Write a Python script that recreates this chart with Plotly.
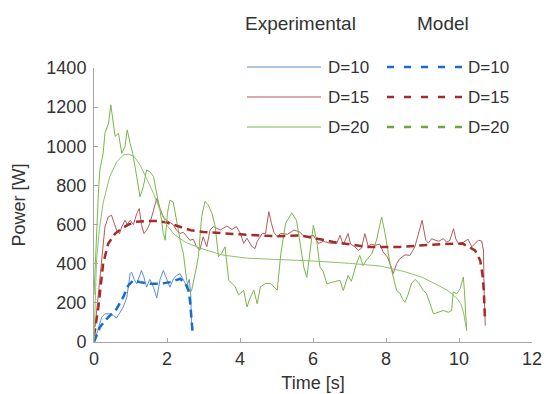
import plotly.graph_objects as go

# ---------------- data ----------------
series_names = ["D=10", "D=15", "D=20"]

t_exp10 = [0.03, 0.12, 0.21, 0.30, 0.43, 0.53, 0.62, 0.71, 0.80, 0.90, 0.99, 1.03, 1.10, 1.17,
           1.24, 1.30, 1.37, 1.44, 1.53, 1.63, 1.72, 1.81, 1.90, 1.99, 2.08, 2.17, 2.26, 2.36,
           2.45, 2.54, 2.61, 2.65, 2.67, 2.69]
p_exp10 = [15, 75, 127, 144, 144, 135, 123, 150, 178, 229, 349, 357, 320, 297,
           340, 366, 330, 280, 320, 280, 225, 320, 366, 320, 280, 320, 340, 349,
           320, 285, 320, 246, 109, 60]

t_mod10 = [0, 0.08, 0.16, 0.30, 0.43, 0.62, 0.80, 0.94, 1.08, 1.26, 1.53, 1.81, 2.08, 2.36,
           2.50, 2.59, 2.63, 2.67, 2.70]
p_mod10 = [0, 40, 75, 109, 135, 169, 229, 289, 315, 306, 297, 297, 306, 323,
           300, 263, 212, 94, 53]

t_exp15 = [0.03, 0.12, 0.21, 0.30, 0.39, 0.48, 0.54, 0.62, 0.70, 0.76, 0.85, 0.91, 0.99, 1.08,
           1.17, 1.24, 1.30, 1.37, 1.44, 1.53, 1.63, 1.72, 1.81, 1.90, 1.99, 2.08, 2.17, 2.26,
           2.36, 2.45, 2.54, 2.63, 2.72, 2.81, 2.90, 2.99, 3.09, 3.18, 3.27, 3.46, 3.64, 3.78,
           3.90, 4.01, 4.10, 4.19, 4.33, 4.41, 4.47, 4.61, 4.70, 4.79, 4.86, 4.93, 5.02, 5.12,
           5.30, 5.48, 5.64, 5.72, 5.83, 6.01, 6.15, 6.28, 6.45, 6.65, 6.74, 6.83, 6.96, 7.03,
           7.15, 7.24, 7.33, 7.42, 7.51, 7.61, 7.70, 7.83, 7.92, 8.04, 8.11, 8.20, 8.29, 8.38,
           8.52, 8.66, 8.79, 8.93, 8.99, 9.04, 9.09, 9.16, 9.25, 9.35, 9.45, 9.57, 9.66, 9.75,
           9.85, 9.91, 9.98, 10.12, 10.25, 10.35, 10.44, 10.53, 10.62, 10.67, 10.69, 10.72]
p_exp15 = [77, 246, 451, 588, 639, 648, 614, 571, 554, 588, 622, 600, 622, 600,
           656, 682, 600, 554, 571, 605, 673, 733, 682, 639, 622, 612, 600, 571,
           555, 560, 537, 520, 525, 486, 470, 538, 487, 572, 590, 572, 593, 575,
           590, 555, 504, 530, 487, 477, 513, 555, 555, 666, 607, 560, 538, 555,
           550, 572, 562, 545, 537, 545, 503, 515, 505, 503, 545, 496, 554, 500,
           486, 468, 480, 554, 490, 500, 494, 500, 460, 434, 400, 349, 400, 426,
           445, 443, 486, 588, 622, 570, 520, 505, 528, 520, 515, 528, 510, 520,
           579, 528, 503, 510, 525, 486, 505, 520, 516, 470, 246, 84]

t_mod15 = [0, 0.05, 0.12, 0.25, 0.39, 0.58, 0.76, 0.94, 1.17, 1.44, 1.72, 2.0, 2.3, 2.65,
           3.0, 3.5, 4.0, 5.0, 5.64, 6.56, 7.47, 8.38, 8.89, 9.5, 10.1, 10.44, 10.58, 10.64,
           10.68, 10.71]
p_mod15 = [30, 90, 178, 400, 503, 554, 580, 600, 614, 618, 618, 610, 592, 571,
           562, 555, 550, 540, 545, 511, 486, 486, 494, 500, 503, 468, 417, 349,
           263, 120]

t_exp20 = [0.00, 0.04, 0.07, 0.12, 0.16, 0.25, 0.30, 0.40, 0.46, 0.53, 0.58, 0.67, 0.76, 0.85,
           0.91, 0.99, 1.06, 1.17, 1.26, 1.35, 1.44, 1.53, 1.63, 1.70, 1.81, 1.90, 1.95, 2.01,
           2.08, 2.17, 2.26, 2.36, 2.45, 2.54, 2.61, 2.67, 2.77, 2.86, 2.95, 3.04, 3.13, 3.23,
           3.32, 3.41, 3.50, 3.59, 3.69, 3.78, 3.87, 3.96, 4.10, 4.19, 4.29, 4.38, 4.47, 4.56,
           4.70, 4.84, 4.93, 5.02, 5.12, 5.25, 5.42, 5.55, 5.65, 5.75, 5.83, 5.92, 6.01, 6.10,
           6.19, 6.28, 6.38, 6.51, 6.65, 6.74, 6.83, 6.96, 7.05, 7.19, 7.28, 7.37, 7.47, 7.61,
           7.74, 7.88, 7.97, 8.06, 8.11, 8.20, 8.29, 8.38, 8.45, 8.52, 8.60, 8.70, 8.80, 8.90,
           9.02, 9.11, 9.21, 9.30, 9.43, 9.57, 9.71, 9.80, 9.84, 9.94, 10.03, 10.12, 10.15, 10.18,
           10.21]
p_exp20 = [240, 420, 588, 760, 879, 964, 1067, 1118, 1212, 1110, 1050, 1067, 964, 1000,
           1084, 1015, 964, 845, 742, 793, 879, 870, 845, 776, 673, 554, 520, 656,
           725, 715, 622, 520, 451, 314, 263, 260, 349, 436, 641, 718, 700, 658,
           590, 436, 453, 487, 316, 299, 282, 240, 265, 179, 231, 265, 196, 282,
           299, 299, 282, 265, 453, 607, 660, 620, 500, 380, 330, 450, 596, 520,
           383, 360, 297, 305, 312, 315, 263, 340, 310, 400, 443, 390, 420, 451,
           520, 639, 560, 440, 400, 332, 263, 250, 220, 203, 240, 300, 320, 300,
           264, 247, 186, 144, 152, 161, 152, 161, 255, 247, 272, 332, 255, 118,
           58]

t_mod20 = [0, 0.03, 0.07, 0.15, 0.25, 0.43, 0.62, 0.80, 0.95, 1.10, 1.26, 1.44, 1.63, 1.81,
           2.0, 2.2, 2.5, 2.9, 3.5, 4.2, 5.1, 6.0, 7.0, 7.85, 8.5, 9.0, 9.4, 9.7, 9.95, 10.05,
           10.12, 10.17, 10.21]
p_mod20 = [0, 250, 420, 580, 710, 845, 920, 955, 960, 948, 905, 836, 759, 673,
           596, 550, 510, 480, 445, 428, 422, 414, 402, 388, 360, 330, 292, 262, 222, 195,
           155, 100, 58]

x_ticks = [0, 2, 4, 6, 8, 10, 12]
y_ticks = [0, 200, 400, 600, 800, 1000, 1200, 1400]

exp_colors = ["#5b8ed6", "#b5595c", "#7ab648"]
mod_colors = ["#1a6bd0", "#a52a2a", "#6aa83a"]
mod_dash_in_plot = [True, True, False]

exp_t = [t_exp10, t_exp15, t_exp20]
exp_p = [p_exp10, p_exp15, p_exp20]
mod_t = [t_mod10, t_mod15, t_mod20]
mod_p = [p_mod10, p_mod15, p_mod20]

FONT = "Liberation Sans, Arial, Helvetica, sans-serif"
TXT = "#333333"
AX = "#a6a6a6"

W, H = 544, 394
ML, MR, MT, MB = 94, 12, 68, 52
PW, PH = W - ML - MR, H - MT - MB

def px2x(px):
    return (px - ML) / PW

def py2y(py):
    return (H - MB - py) / PH

fig = go.Figure()

for i in range(3):
    fig.add_trace(go.Scatter(x=exp_t[i], y=exp_p[i], mode="lines", name=series_names[i],
                             line=dict(color=exp_colors[i], width=1), showlegend=False))
for i in range(3):
    if mod_dash_in_plot[i]:
        ln = dict(color=mod_colors[i], width=2.5, dash="8px,5px")
    else:
        ln = dict(color="#8cc26a", width=1)
    fig.add_trace(go.Scatter(x=mod_t[i], y=mod_p[i], mode="lines", name=series_names[i],
                             line=ln, showlegend=False))

# ---------------- custom legend ----------------
shapes = []
annotations = []
annotations.append(dict(text="Experimental", x=px2x(300), y=py2y(23), xref="paper", yref="paper",
                        showarrow=False, xanchor="center", yanchor="middle",
                        font=dict(family=FONT, size=19, color=TXT)))
annotations.append(dict(text="Model", x=px2x(443), y=py2y(23), xref="paper", yref="paper",
                        showarrow=False, xanchor="center", yanchor="middle",
                        font=dict(family=FONT, size=19, color=TXT)))
row_y = [67, 97, 127]
for i in range(3):
    y = py2y(row_y[i])
    shapes.append(dict(type="line", xref="paper", yref="paper", x0=px2x(247), x1=px2x(321),
                       y0=y, y1=y, line=dict(color=exp_colors[i], width=1.2)))
    shapes.append(dict(type="line", xref="paper", yref="paper", x0=px2x(387), x1=px2x(462),
                       y0=y, y1=y, line=dict(color=mod_colors[i], width=2.5, dash="7px,10px")))
    annotations.append(dict(text=series_names[i], x=px2x(326), y=y, xref="paper", yref="paper",
                            showarrow=False, xanchor="left", yanchor="middle",
                            font=dict(family=FONT, size=17, color=TXT)))
    annotations.append(dict(text=series_names[i], x=px2x(466), y=y, xref="paper", yref="paper",
                            showarrow=False, xanchor="left", yanchor="middle",
                            font=dict(family=FONT, size=17, color=TXT)))

fig.update_layout(
    width=W, height=H, autosize=False,
    margin=dict(l=ML, r=MR, t=MT, b=MB, pad=0, autoexpand=False),
    plot_bgcolor="white", paper_bgcolor="white",
    showlegend=False,
    font=dict(family=FONT, size=18, color=TXT),
    shapes=shapes, annotations=annotations,
)
fig.update_xaxes(range=[0, 12], tickvals=x_ticks, ticktext=[str(v) for v in x_ticks],
                 automargin=False,
                 showline=True, linecolor=AX, linewidth=1,
                 ticks="inside", ticklen=4, tickcolor=AX, showgrid=False, zeroline=False,
                 tickfont=dict(family=FONT, size=18, color=TXT),
                 title=dict(text="Time [s]", standoff=8, font=dict(family=FONT, size=18, color=TXT)))
fig.update_yaxes(range=[0, 1400], tickvals=y_ticks, ticktext=[str(v) for v in y_ticks],
                 automargin=False, ticklabelstandoff=3,
                 showline=True, linecolor=AX, linewidth=1,
                 ticks="inside", ticklen=4, tickcolor=AX, showgrid=False, zeroline=False,
                 tickfont=dict(family=FONT, size=18, color=TXT),
                 title=dict(text="Power [W]", standoff=16, font=dict(family=FONT, size=18, color=TXT)))

fig.write_html("out.html")
